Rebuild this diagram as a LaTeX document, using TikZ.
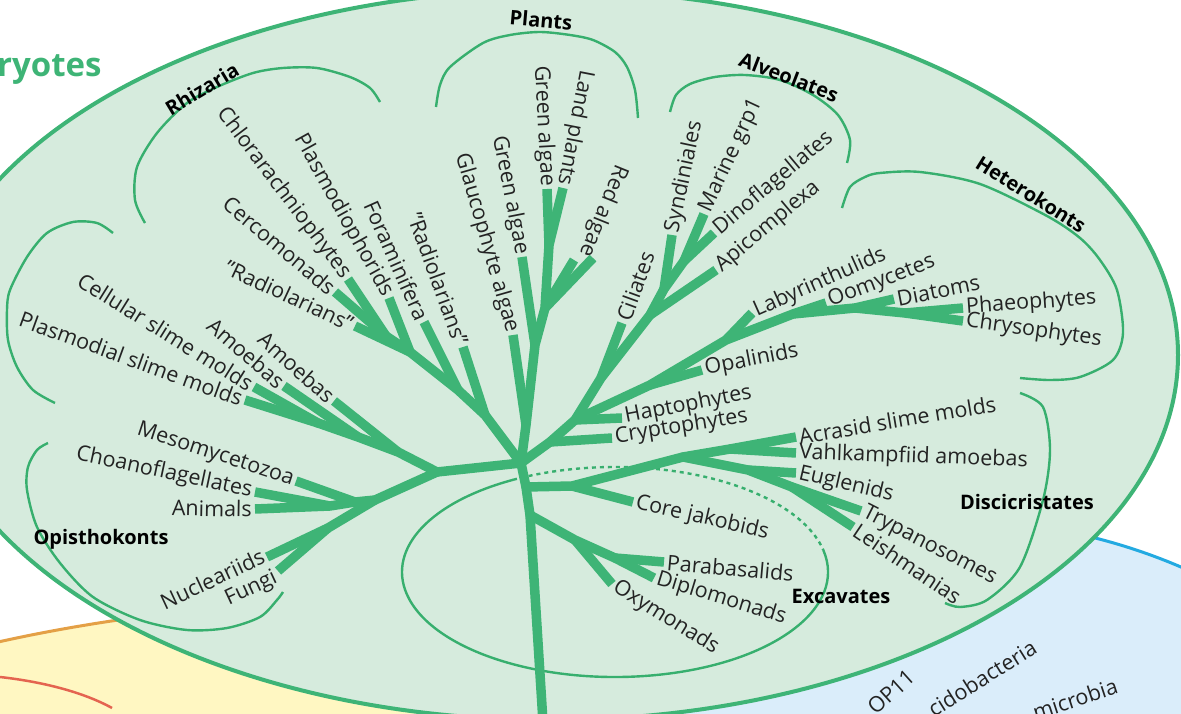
\documentclass[tikz,border=0pt]{standalone}
\usepackage{fontspec}
\setmainfont{Open Sans}
\usetikzlibrary{calc}
\definecolor{euk}{RGB}{62,180,118}
\definecolor{eukfill}{RGB}{214,235,221}
\definecolor{grpline}{RGB}{55,175,110}
\definecolor{txt}{RGB}{35,35,35}
\definecolor{archfill}{RGB}{255,247,194}
\definecolor{archline}{RGB}{228,160,70}
\definecolor{redline}{RGB}{228,100,80}
\definecolor{bactfill}{RGB}{218,237,250}
\definecolor{bactline}{RGB}{35,170,225}
\tikzset{
  branch/.style={euk, line width=9.5pt, line cap=butt},
  stem/.style={euk, line width=9.5pt, line cap=round, line join=round},
  grp/.style={grpline, line width=2.4pt},
  taxon/.style={text=txt, font=\fontsize{21.5}{23}\selectfont, inner sep=3pt},
  clade/.style={text=black, font=\fontsize{20}{22}\selectfont\bfseries, inner sep=0pt},
}
\begin{document}
\begin{tikzpicture}[x=1pt, y=-1pt]
\useasboundingbox (0,0) rectangle (1181,714);
\clip (0,0) rectangle (1181,714);

% neighbouring domains
\filldraw[fill=archfill, draw=archline, line width=3pt] (400,1000) ellipse [x radius=900pt, y radius=400pt];
\draw[redline, line width=2.5pt] (0,677) .. controls (45,682) and (85,693) .. (112,708);
\filldraw[fill=bactfill, draw=bactline, line width=3pt] (950,1050) ellipse [x radius=560pt, y radius=530pt];

% eukaryotes
\filldraw[fill=eukfill, draw=euk, line width=4pt] (550,355) ellipse [x radius=628pt, y radius=365pt];
\node[text=euk, font=\fontsize{33}{35}\selectfont\bfseries, anchor=west, inner sep=0pt] (eukname) at (-3,70) {ryotes};

% group arcs
\draw[grp] plot[smooth] coordinates {(145,223) (135,200) (137,167) (157,133) (187,103) (217,87) (253,73) (283,68) (317,68) (350,77) (370,88) (380,102)};
\draw[grp] plot[smooth] coordinates {(113,233) (97,223) (73,222) (47,233) (27,257) (10,290) (7,310) (8,340) (17,367) (33,390) (55,403)};
\draw[grp] plot[smooth] coordinates {(48,443) (37,450) (28,467) (27,490) (37,527) (60,563) (93,597) (140,620) (187,630) (227,628) (260,617) (277,600) (283,592)};
\draw[grp] plot[smooth] coordinates {(436,107) (440,85) (450,67) (483,43) (510,35) (540,32) (570,35) (593,40) (615,52) (627,67) (635,90) (638,118)};
\draw[grp] plot[smooth] coordinates {(670,112) (676,95) (690,84) (715,77) (745,75) (780,80) (813,95) (838,115) (850,140) (847,163)};
\draw[grp] plot[smooth] coordinates {(842,208) (850,187) (865,177) (880,173) (920,172) (980,184) (1047,216) (1080,238) (1100,260) (1117,290) (1123,333) (1113,360) (1080,377) (1050,380) (1020,378)};
\draw[grp] plot[smooth] coordinates {(1020,393) (1043,407) (1050,450) (1043,500) (1020,567) (987,600) (960,607) (945,603)};
\coordinate (excC) at (615,572);
\draw[grp] (excC) ++(12:213pt and 105pt) arc[start angle=12, end angle=-241.4, x radius=213pt, y radius=105pt];
\draw[grp, dash pattern=on 4pt off 4pt] (excC) ++(118.6:213pt and 105pt) arc[start angle=118.6, end angle=12, x radius=213pt, y radius=105pt];

\node[clade, rotate=31] (rhizaria) at (202,89) {Rhizaria};
\node[clade, rotate=-5] (plants) at (541,20) {Plants};
\node[clade, rotate=-21] (alveolates) at (789,77) {Alveolates};
\node[clade, rotate=-32] (heterokonts) at (1031,194) {Heterokonts};
\node[clade] (discicristates) at (1027,502) {Discicristates};
\node[clade] (excavates) at (841,596) {Excavates};
\node[clade] (opisthokonts) at (101,539) {Opisthokonts};

% junctions
\coordinate (root) at (521,463);
\coordinate (base) at (543,722);
\coordinate (t1) at (526,487);
\coordinate (t2) at (530,515);
\coordinate (l0) at (437,472);
\coordinate (am0) at (398,452);
\coordinate (am1) at (358,437);
\coordinate (am2) at (318,423);
\coordinate (op0) at (375,500);
\coordinate (op1) at (355,502);
\coordinate (op2) at (330,506);
\coordinate (op3) at (328,528);
\coordinate (rz0) at (485,415);
\coordinate (rz1) at (458,390);
\coordinate (rz2) at (410,352);
\coordinate (rz3) at (386,336);
\coordinate (pl0) at (526,425);
\coordinate (pl1) at (535,345);
\coordinate (pl2) at (545,308);
\coordinate (pl3) at (549,245);
\coordinate (ch0) at (550,442);
\coordinate (ch1) at (575,420);
\coordinate (al0) at (601,378);
\coordinate (al1) at (650,315);
\coordinate (al2) at (664,289);
\coordinate (al3) at (684,261);
\coordinate (he0) at (650,385);
\coordinate (he1) at (726,340);
\coordinate (he2) at (793,314);
\coordinate (he3) at (855,308);
\coordinate (he4) at (905,313);
\coordinate (ex0) at (572,486);
\coordinate (dc0) at (683,457);
\coordinate (dc1) at (730,449);
\coordinate (dc2) at (748,470);
\coordinate (dc3) at (792,487);
\coordinate (xc0) at (575,540);
\coordinate (xc1) at (615,558);

% tips
\coordinate (tPlasmodial) at (245,400);
\coordinate (tCellular) at (254,387);
\coordinate (tAmoebaA) at (284,386);
\coordinate (tAmoebaB) at (334,401);
\coordinate (tMeso) at (296,481);
\coordinate (tChoano) at (255,492);
\coordinate (tAnimals) at (255,509);
\coordinate (tNuclear) at (267,557);
\coordinate (tFungi) at (278,571);
\coordinate (tRadioA) at (355,326);
\coordinate (tCercom) at (335,292);
\coordinate (tChlorar) at (348,279);
\coordinate (tPlasmo) at (389,298);
\coordinate (tForam) at (424,322);
\coordinate (tRadioB) at (463,347);
\coordinate (tGlauco) at (513,335);
\coordinate (tGreenA) at (522,257);
\coordinate (tGreenB) at (547,189);
\coordinate (tLand) at (563,188);
\coordinate (tRedA) at (574,260);
\coordinate (tRedB) at (593,258);
\coordinate (tCrypto) at (612,438);
\coordinate (tHapto) at (622,418);
\coordinate (tCiliat) at (622,323);
\coordinate (tSyndin) at (672,235);
\coordinate (tMarine) at (704,214);
\coordinate (tDino) at (714,233);
\coordinate (tApicom) at (716,270);
\coordinate (tOpalin) at (702,370);
\coordinate (tLabyr) at (752,313);
\coordinate (tOomyc) at (826,303);
\coordinate (tDiatom) at (894,299);
\coordinate (tPhaeo) at (963,308);
\coordinate (tChryso) at (963,321);
\coordinate (tJakob) at (633,502);
\coordinate (tAcras) at (796,437);
\coordinate (tVahlk) at (796,453);
\coordinate (tEuglen) at (796,473);
\coordinate (tTrypan) at (861,511);
\coordinate (tLeish) at (853,527);
\coordinate (tParab) at (664,562);
\coordinate (tDiplo) at (654,578);
\coordinate (tOxym) at (612,584);

% inner branches
\draw[stem] (root) -- (t1) -- (t2) -- (base);
\draw[stem] (root) -- (l0) -- (am0) -- (am1) -- (am2);
\draw[stem] (l0) -- (op0) -- (op1) -- (op2);
\draw[stem] (op0) -- (op3);
\draw[stem] (root) -- (rz0) -- (rz1) -- (rz2) -- (rz3);
\draw[stem] (root) -- (pl0) -- (pl1) -- (pl2) -- (pl3);
\draw[stem] (root) -- (ch0) -- (ch1) -- (al0) -- (al1) -- (al2) -- (al3);
\draw[stem] (ch1) -- (he0) -- (he1) -- (he2) -- (he3) -- (he4);
\draw[stem] (t1) -- (ex0) -- (dc0) -- (dc1);
\draw[stem] (dc0) -- (dc2) -- (dc3);
\draw[stem] (t2) -- (xc0) -- (xc1);

% leaves
\draw[branch] (tPlasmodial) -- (am2);
\draw[branch] (tCellular) -- (am2);
\draw[branch] (tAmoebaA) -- (am1);
\draw[branch] (tAmoebaB) -- (am0);
\draw[branch] (tMeso) -- (op1);
\draw[branch] (tChoano) -- (op2);
\draw[branch] (tAnimals) -- (op2);
\draw[branch] (tNuclear) -- (op3);
\draw[branch] (tFungi) -- (op3);
\draw[branch] (tRadioA) -- (rz2);
\draw[branch] (tCercom) -- (rz3);
\draw[branch] (tChlorar) -- (rz3);
\draw[branch] (tPlasmo) -- (rz2);
\draw[branch] (tForam) -- (rz1);
\draw[branch] (tRadioB) -- (rz0);
\draw[branch] (tGlauco) -- (pl0);
\draw[branch] (tGreenA) -- (pl1);
\draw[branch] (tRedA) -- (pl2);
\draw[branch] (tRedB) -- (pl2);
\draw[branch] (tGreenB) -- (pl3);
\draw[branch] (tLand) -- (pl3);
\draw[branch] (tCrypto) -- (ch0);
\draw[branch] (tHapto) -- (ch1);
\draw[branch] (tCiliat) -- (al0);
\draw[branch] (tApicom) -- (al1);
\draw[branch] (tSyndin) -- (al2);
\draw[branch] (tMarine) -- (al3);
\draw[branch] (tDino) -- (al3);
\draw[branch] (tOpalin) -- (he0);
\draw[branch] (tLabyr) -- (he1);
\draw[branch] (tOomyc) -- (he2);
\draw[branch] (tDiatom) -- (he3);
\draw[branch] (tPhaeo) -- (he4);
\draw[branch] (tChryso) -- (he4);
\draw[branch] (tJakob) -- (ex0);
\draw[branch] (tAcras) -- (dc1);
\draw[branch] (tVahlk) -- (dc1);
\draw[branch] (tEuglen) -- (dc2);
\draw[branch] (tTrypan) -- (dc3);
\draw[branch] (tLeish) -- (dc3);
\draw[branch] (tOxym) -- (xc0);
\draw[branch] (tParab) -- (xc1);
\draw[branch] (tDiplo) -- (xc1);

% labels, left side
\node[taxon, anchor=east, rotate=-20] (plasmodial) at (tPlasmodial) {Plasmodial slime molds};
\node[taxon, anchor=east, rotate=-32] (cellular) at (tCellular) {Cellular slime molds};
\node[taxon, anchor=east, rotate=-41] (amoebaA) at (tAmoebaA) {Amoebas};
\node[taxon, anchor=east, rotate=-42] (amoebaB) at (tAmoebaB) {Amoebas};
\node[taxon, anchor=east, rotate=-18] (meso) at (tMeso) {Mesomycetozoa};
\node[taxon, anchor=east, rotate=-12] (choano) at (tChoano) {Choanoflagellates};
\node[taxon, anchor=east, rotate=-1] (animals) at (tAnimals) {Animals};
\node[taxon, anchor=east, rotate=25] (nuclear) at ($(tNuclear)+(-1,-3)$) {Nucleariids};
\node[taxon, anchor=east, rotate=25] (fungi) at ($(tFungi)+(1,5)$) {Fungi};
\node[taxon, anchor=east, rotate=-25] (radioA) at (tRadioA) {"Radiolarians"};
\node[taxon, anchor=east, rotate=-40] (cercom) at (tCercom) {Cercomonads};
\node[taxon, anchor=east, rotate=-53] (chlorar) at (tChlorar) {Chlorarachniophytes};
\node[taxon, anchor=east, rotate=-61] (plasmo) at (tPlasmo) {Plasmodiophorids};
\node[taxon, anchor=east, rotate=-66] (foram) at (tForam) {Foraminifera};
\node[taxon, anchor=east, rotate=-70] (radioB) at (tRadioB) {"Radiolarians"};
\node[taxon, anchor=east, rotate=-74] (glauco) at (tGlauco) {Glaucophyte algae};
\node[taxon, anchor=east, rotate=-79] (greenA) at (tGreenA) {Green algae};
\node[taxon, anchor=east, rotate=-87] (greenB) at (tGreenB) {Green algae};
\node[taxon, anchor=east, rotate=-101] (land) at (tLand) {Land plants};
\node[taxon, anchor=east, rotate=-112] (redalg) at ($(tRedA)!0.5!(tRedB)$) {Red algae};

% labels, right side
\node[taxon, anchor=west, rotate=70] (ciliat) at (tCiliat) {Ciliates};
\node[taxon, anchor=west, rotate=78] (syndin) at (tSyndin) {Syndiniales};
\node[taxon, anchor=west, rotate=65] (marine) at (tMarine) {Marine grp1};
\node[taxon, anchor=west, rotate=40] (dino) at (tDino) {Dinoflagellates};
\node[taxon, anchor=west, rotate=40] (apicom) at (tApicom) {Apicomplexa};
\node[taxon, anchor=west, rotate=24] (labyr) at (tLabyr) {Labyrinthulids};
\node[taxon, anchor=west, rotate=21] (oomyc) at (tOomyc) {Oomycetes};
\node[taxon, anchor=west, rotate=11] (diatom) at (tDiatom) {Diatoms};
\node[taxon, anchor=west, rotate=4] (phaeo) at (tPhaeo) {Phaeophytes};
\node[taxon, anchor=west, rotate=-8] (chryso) at (tChryso) {Chrysophytes};
\node[taxon, anchor=west, rotate=11] (opalin) at (tOpalin) {Opalinids};
\node[taxon, anchor=west, rotate=11] (hapto) at (tHapto) {Haptophytes};
\node[taxon, anchor=west, rotate=9] (crypto) at (tCrypto) {Cryptophytes};
\node[taxon, anchor=west, rotate=9.5] (acras) at (tAcras) {Acrasid slime molds};
\node[taxon, anchor=west, rotate=-2] (vahlk) at (tVahlk) {Vahlkampfiid amoebas};
\node[taxon, anchor=west, rotate=-13] (euglen) at (tEuglen) {Euglenids};
\node[taxon, anchor=west, rotate=-27] (trypan) at (tTrypan) {Trypanosomes};
\node[taxon, anchor=west, rotate=-34] (leish) at (tLeish) {Leishmanias};
\node[taxon, anchor=west, rotate=-13] (jakob) at (tJakob) {Core jakobids};
\node[taxon, anchor=west, rotate=-5] (parab) at (tParab) {Parabasalids};
\node[taxon, anchor=west, rotate=-17] (diplo) at (tDiplo) {Diplomonads};
\node[taxon, anchor=west, rotate=-32] (oxym) at (tOxym) {Oxymonads};

% bacteria, cut by the edge
\node[taxon, rotate=42] (op11) at (891,692) {OP11};
\node[taxon, rotate=32] (acido) at (982,678) {cidobacteria};
\node[taxon, rotate=18] (verruco) at (1075,699) {microbia};

\end{tikzpicture}
\end{document}
